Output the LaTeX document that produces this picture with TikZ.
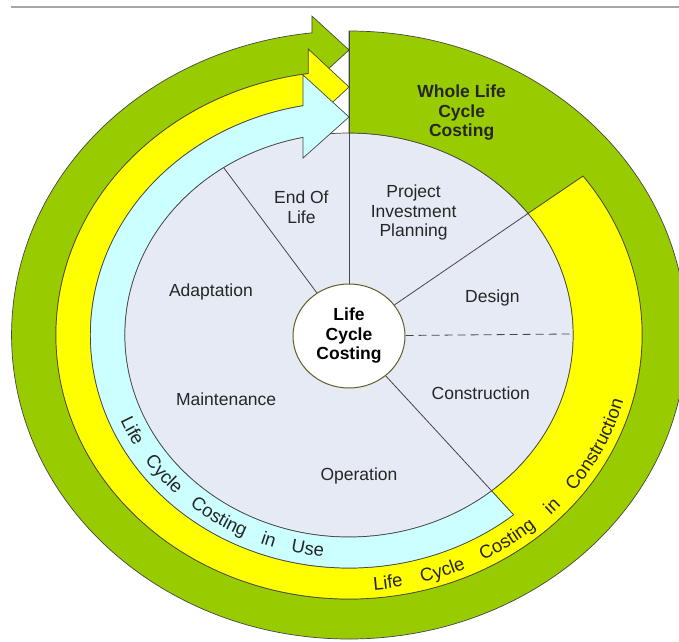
\documentclass[tikz,border=0pt]{standalone}
\usepackage{fontspec}
\setmainfont{Liberation Sans}
\usetikzlibrary{shapes.geometric,decorations.text}

\definecolor{wlcgreen}{RGB}{153,204,0}
\definecolor{lcyellow}{RGB}{255,255,0}
\definecolor{lcucyan}{RGB}{204,255,255}
\definecolor{stagegrey}{RGB}{229,234,245}
\definecolor{rimline}{RGB}{70,70,70}
\definecolor{hubline}{RGB}{95,95,35}
\newcommand{\stagefont}{\fontsize{17.5}{19.5}\selectfont}
\newcommand{\ringfont}{\fontsize{18.5}{21}\selectfont}

\begin{document}
\begin{tikzpicture}[x=1pt, y=1pt,
    band/.style={draw=rimline, line width=0.7pt},
    spoke/.style={draw=rimline, line width=0.8pt},
    stage/.style={align=center, text=black!85, inner sep=0pt, font=\stagefont},
    hub/.style={ellipse, draw=hubline, line width=1pt, fill=white, minimum width=112pt, minimum height=104pt, inner sep=0pt, align=center, font=\stagefont\bfseries},
    ringtext/.style={decorate, decoration={text along path, text color=black!85, text align={fit to path stretching spaces}}}]
    \useasboundingbox (-349,-306) rectangle (330,335);
    \clip (-349,-306) rectangle (330,335);
    \draw[gray!70, line width=1.5pt] (-338,328) -- (330,328);

    \begin{scope}[xscale=1.11]
        \filldraw[band, fill=stagegrey] (0,0) circle (202pt);
        % outer ring and whole life block
        \filldraw[band, fill=wlcgreen] (90:202) -- (90:304) arc[start angle=90, end angle=-263.7, radius=304pt]
            -- (-33.4,319) -- (0,285) -- (-33.4,251) -- (-262.75:264) arc[start angle=-262.75, end angle=37, radius=264pt]
            -- (37:202) arc[start angle=37, end angle=90, radius=202pt] -- cycle;
        % construction ring
        \filldraw[band, fill=lcyellow] (37:202) -- (37:264) arc[start angle=37, end angle=-262, radius=264pt]
            -- (-36.7,286) -- (0,248) -- (-36.7,210) -- (-260.93:233) arc[start angle=-260.93, end angle=-50.5, radius=233pt]
            -- (-50.5:202) arc[start angle=-50.5, end angle=37, radius=202pt] -- cycle;
        % in use ring
        \filldraw[band, fill=lcucyan] (-50.5:202) -- (-50.5:233) arc[start angle=-50.5, end angle=-259.76, radius=233pt]
            -- (-41.4,260) -- (0,218) -- (-41.4,177) -- (-258.17:202) arc[start angle=-258.17, end angle=-50.5, radius=202pt] -- cycle;

        \node[hub] (lcc) at (0,-1) {Life\\Cycle\\Costing};
        \coordinate (topend) at (90:304);
        \coordinate (eolrim) at (124:202);
        \coordinate (piprim) at (37:202);
        \coordinate (dashrim) at (0.3:202);
        \coordinate (oprim) at (-50.5:202);
        \draw[spoke] (lcc) -- (topend);
        \draw[spoke] (lcc) -- (eolrim);
        \draw[spoke] (lcc) -- (piprim);
        \draw[spoke] (lcc) -- (oprim);
        \draw[spoke, dash pattern=on 8pt off 5pt] (lcc) -- (dashrim);

        \node[stage, font=\stagefont\bfseries] (wlcc) at (101.5,222) {Whole Life\\Cycle\\Costing};
        \node[stage] (pip) at (58.2,122.5) {Project\\Investment\\Planning};
        \node[stage] (eol) at (-42.9,128) {End Of\\Life};
        \node[stage] (adapt) at (-124.4,42.7) {Adaptation};
        \node[stage] (design) at (129.2,36.6) {Design};
        \node[stage] (maint) at (-110.7,-64.4) {Maintenance};
        \node[stage] (constr) at (118.7,-58.7) {Construction};
        \node[stage] (oper) at (9,-140.5) {Operation};
    \end{scope}

    \path[ringtext, decoration={text={|\ringfont|Life Cycle Costing in Use}}]
        ({1.11*223*cos(-157.5)},{223*sin(-157.5)}) arc[start angle=-157.5, end angle=-96, x radius=247.53pt, y radius=223pt];
    \path[ringtext, decoration={text={|\ringfont|Life Cycle Costing in Construction}}]
        ({1.11*256*cos(-85)},{256*sin(-85)}) arc[start angle=-85, end angle=-15, x radius=284.16pt, y radius=256pt];
\end{tikzpicture}
\end{document}
